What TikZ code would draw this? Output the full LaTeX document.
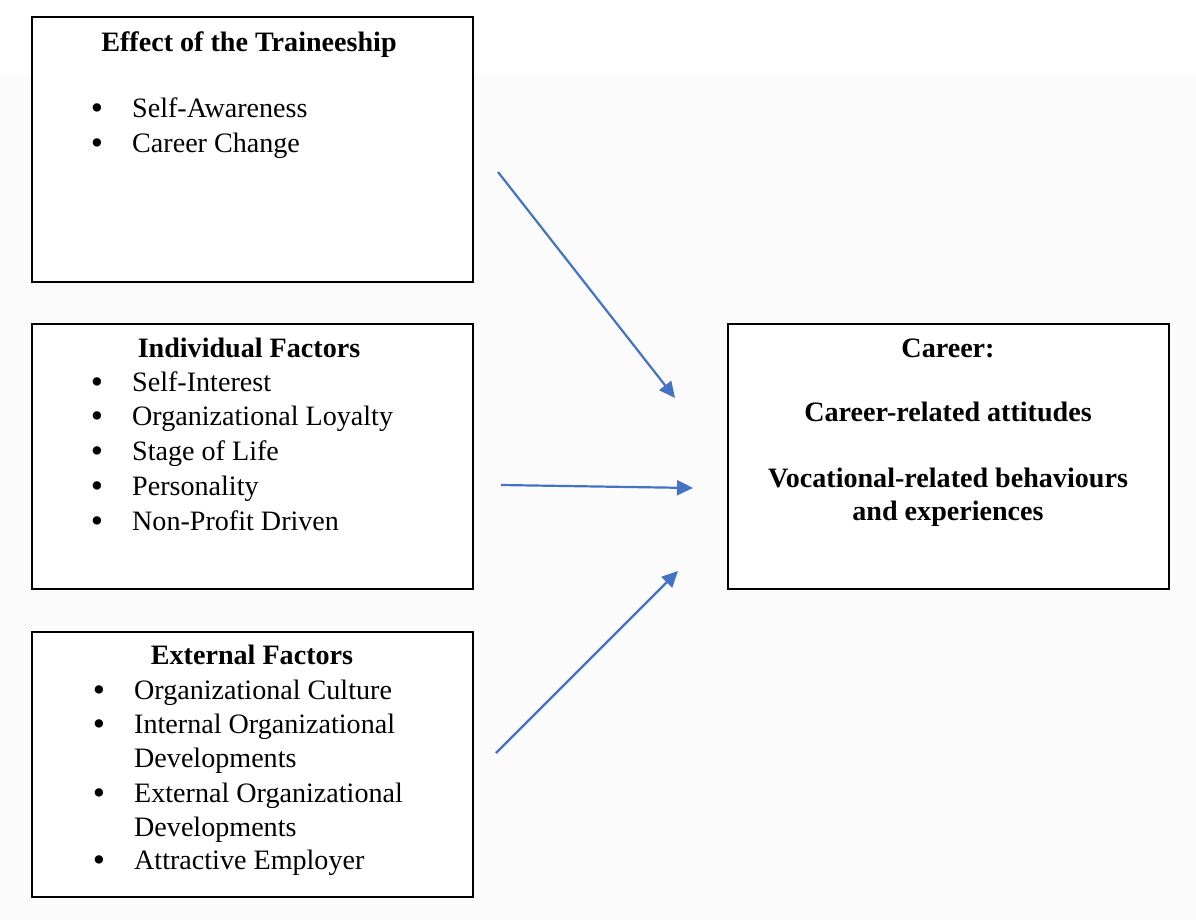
\documentclass[tikz,border=0pt]{standalone}
\usepackage{fontspec}
\setmainfont{Liberation Serif}
\usetikzlibrary{arrows.meta}
\definecolor{linkblue}{RGB}{68,114,196}
\definecolor{haze}{RGB}{251,251,251}
\begin{document}
\begin{tikzpicture}[x=1pt,y=-1pt,
  frame/.style={draw=black,line width=2pt,fill=white,anchor=north west,
    minimum width=441pt,minimum height=265pt,inner sep=0pt},
  body/.style={font=\fontsize{28.1}{35}\selectfont,anchor=base west,inner sep=0pt},
  head/.style={font=\fontsize{28.1}{35}\selectfont\bfseries,anchor=base,inner sep=0pt},
  bul/.style={font=\fontsize{35}{35}\selectfont,anchor=base,inner sep=0pt},
  link/.style={draw=linkblue,line width=2.2pt,-{Triangle[length=16pt,width=15pt]}}]
\useasboundingbox (0,0) rectangle (1196,920);
% light page tone behind the lower part
\fill[haze] (0,75) rectangle (1196,920);

% boxes
\node[frame] (eff) at (31,16) {};
\node[frame] (ind) at (31,323) {};
\node[frame] (ext) at (31,631) {};
\node[frame] (car) at (727,323) {};

% Effect of the Traineeship
\node[head] (effT) at (249,52) {Effect of the Traineeship};
\node[bul] (effB1) at (97,120) {\textbullet};
\node[body] (effI1) at (132,118) {Self-Awareness};
\node[bul] (effB2) at (97,155) {\textbullet};
\node[body] (effI2) at (132,153) {Career Change};

% Individual Factors
\node[head] (indT) at (249,357) {Individual Factors};
\node[bul] (indB1) at (97,393) {\textbullet};
\node[body] (indI1) at (132,391) {Self-Interest};
\node[bul] (indB2) at (97,427.5) {\textbullet};
\node[body] (indI2) at (132,425.5) {Organizational Loyalty};
\node[bul] (indB3) at (97,462) {\textbullet};
\node[body] (indI3) at (132,460) {Stage of Life};
\node[bul] (indB4) at (97,497) {\textbullet};
\node[body] (indI4) at (132,495) {Personality};
\node[bul] (indB5) at (97,532) {\textbullet};
\node[body] (indI5) at (132,530) {Non-Profit Driven};

% External Factors
\node[head] (extT) at (252,664) {External Factors};
\node[bul] (extB1) at (99,701) {\textbullet};
\node[body] (extI1) at (134,699) {Organizational Culture};
\node[bul] (extB2) at (99,735) {\textbullet};
\node[body] (extI2) at (134,733) {Internal Organizational};
\node[body] (extI2b) at (134,767) {Developments};
\node[bul] (extB3) at (99,804) {\textbullet};
\node[body] (extI3) at (134,802) {External Organizational};
\node[body] (extI3b) at (134,836) {Developments};
\node[bul] (extB4) at (99,871) {\textbullet};
\node[body] (extI4) at (134,869) {Attractive Employer};

% Career
\node[head] (carT) at (948,357) {Career:};
\node[head] (carA) at (948,421) {Career-related attitudes};
\node[head] (carV) at (948,487) {Vocational-related behaviours};
\node[head] (carE) at (948,520) {and experiences};

% connectors
\coordinate (s1) at (498,172);
\coordinate (t1) at (675,398);
\coordinate (s2) at (501,485);
\coordinate (t2) at (693,488);
\coordinate (s3) at (496,753);
\coordinate (t3) at (678,571);
\draw[link] (s1) -- (t1);
\draw[link] (s2) -- (t2);
\draw[link] (s3) -- (t3);
\end{tikzpicture}
\end{document}
